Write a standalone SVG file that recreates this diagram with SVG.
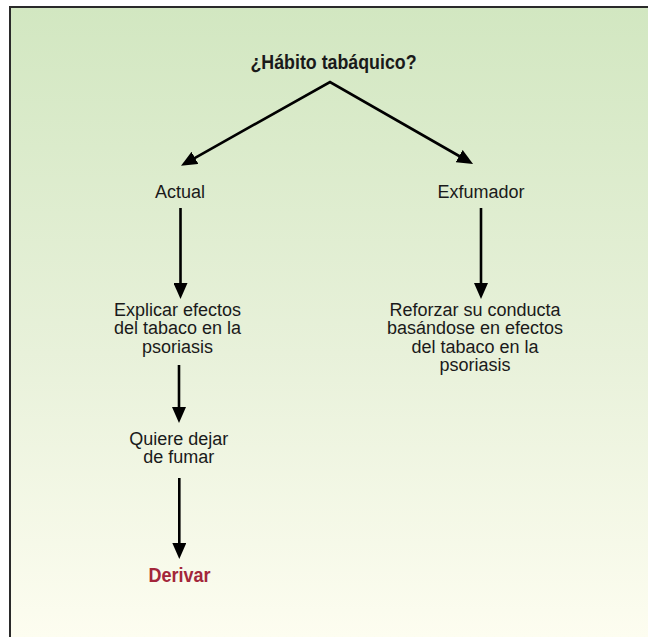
<svg xmlns="http://www.w3.org/2000/svg" width="648" height="637" viewBox="0 0 648 637">
  <defs>
    <linearGradient id="panelFill" x1="0" y1="0" x2="0" y2="1">
      <stop offset="0" stop-color="#d2e7c1"/>
      <stop offset="0.55" stop-color="#e8f1da"/>
      <stop offset="1" stop-color="#fdfdf0"/>
    </linearGradient>
    <marker id="head" viewBox="0 0 16 14" refX="8" refY="7" markerWidth="16" markerHeight="14" markerUnits="userSpaceOnUse" orient="auto-start-reverse">
      <path d="M0,0 L16,7 L0,14 Z" fill="#000"/>
    </marker>
    <style>
      .lbl { font-family: "Liberation Sans", Arial, sans-serif; font-size: 18px; fill: #1a1a1a; text-anchor: middle; }
      .bold { font-weight: bold; font-size: 20px; }
      .red { fill: #a3263a; }
      .edge { fill: none; stroke: #000; stroke-width: 2.6; stroke-linejoin: miter; }
    </style>
  </defs>

  <!-- panel -->
  <rect x="0" y="0" width="648" height="637" fill="#fff"/>
  <rect x="10" y="7" width="638" height="630" fill="url(#panelFill)"/>
  <path d="M10,637 L10,7 L648,7" fill="none" stroke="#2a2a2a" stroke-width="2"/>

  <!-- connectors -->
  <g id="connectors">
    <path class="edge" d="M188,161.8 L330,82 L466.1,160" marker-start="url(#head)" marker-end="url(#head)"/>
    <path class="edge" d="M180.5,208 L180.5,291" marker-end="url(#head)"/>
    <path class="edge" d="M481,208 L481,291" marker-end="url(#head)"/>
    <path class="edge" d="M179,365 L179,415" marker-end="url(#head)"/>
    <path class="edge" d="M179.3,478 L179.3,551" marker-end="url(#head)"/>
  </g>

  <!-- nodes -->
  <g id="n-habito">
    <text class="lbl bold" transform="translate(333.5,68.5) scale(0.89,1)">¿Hábito tabáquico?</text>
  </g>
  <g id="n-actual">
    <text class="lbl" x="180" y="197.5">Actual</text>
  </g>
  <g id="n-exfumador">
    <text class="lbl" x="481" y="197.5">Exfumador</text>
  </g>
  <g id="n-explicar">
    <text class="lbl" x="177.5" y="315.5">Explicar efectos</text>
    <text class="lbl" x="177.5" y="334">del tabaco en la</text>
    <text class="lbl" x="177.5" y="352.5">psoriasis</text>
  </g>
  <g id="n-reforzar">
    <text class="lbl" x="475" y="315.5">Reforzar su conducta</text>
    <text class="lbl" x="475" y="334">basándose en efectos</text>
    <text class="lbl" x="475" y="352.5">del tabaco en la</text>
    <text class="lbl" x="475" y="371">psoriasis</text>
  </g>
  <g id="n-quiere">
    <text class="lbl" x="178.7" y="444.5">Quiere dejar</text>
    <text class="lbl" x="178.7" y="463">de fumar</text>
  </g>
  <g id="n-derivar">
    <text class="lbl bold red" transform="translate(179.5,581.5) scale(0.9,1)">Derivar</text>
  </g>
</svg>
